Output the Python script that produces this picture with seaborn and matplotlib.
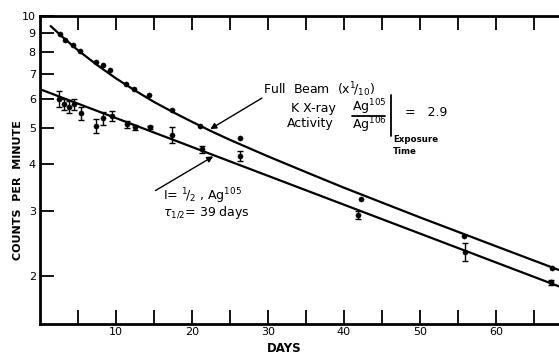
import matplotlib
matplotlib.use("Agg")
import matplotlib.pyplot as plt
import seaborn as sns
import pandas as pd

# ---- data ----
full_days = [2.67, 3.33, 4.3, 5.3, 7.37, 8.29, 9.25, 11.3, 12.4, 14.3, 17.4, 21.1, 26.3, 42.2, 55.8, 67.4]
full_vals = [8.93, 8.62, 8.34, 8.06, 7.53, 7.38, 7.16, 6.57, 6.36, 6.14, 5.59, 5.08, 4.70, 3.23, 2.56, 2.11]

half_days = [2.54, 3.2, 3.82, 4.43, 5.43, 7.41, 8.29, 9.43, 11.4, 12.46, 14.5, 17.4, 21.3, 26.3, 41.9, 55.9, 67.2]
half_vals = [5.99, 5.80, 5.70, 5.80, 5.49, 5.08, 5.31, 5.39, 5.12, 5.02, 5.02, 4.80, 4.39, 4.21, 2.93, 2.33, 1.93]
half_err = [0.30, 0.20, 0.20, 0.20, 0.22, 0.22, 0.20, 0.18, 0.12, 0.09, 0.05, 0.25, 0.10, 0.12, 0.07, 0.13, 0.03]

# fitted curve through full-beam points
curve_days = [1.4, 3, 5, 7.5, 10, 12.5, 15, 17.5, 20, 22.5, 25, 30, 35, 40, 50, 60, 68.3]
curve_vals = [9.40, 8.77, 8.09, 7.39, 6.80, 6.31, 5.88, 5.52, 5.20, 4.91, 4.65, 4.20, 3.81, 3.46, 2.88, 2.41, 2.08]

# straight Ag105 decay line (39 day half-life)
line_days = [0.0, 68.3]
line_vals = [6.36, 1.88]

y_ticks = [2, 3, 4, 5, 6, 7, 8, 9, 10]
x_ticks = [10, 20, 30, 40, 50, 60]
x_minor = [5, 15, 25, 35, 45, 55, 65]

W, H = 559, 354
sns.set_style("ticks")
plt.rcParams['font.family'] = ['DejaVu Sans']
plt.rcParams['text.color'] = 'black'

fig = plt.figure(figsize=(W / 100, H / 100), dpi=100)
ax = fig.add_axes([40 / W, 1 - 324 / H, 1 - 40 / W, (324 - 16) / H])

df_curve = pd.DataFrame({"day": curve_days, "val": curve_vals})
df_line = pd.DataFrame({"day": line_days, "val": line_vals})
df_full = pd.DataFrame({"day": full_days, "val": full_vals})
df_half = pd.DataFrame({"day": half_days, "val": half_vals})

sns.lineplot(data=df_curve, x="day", y="val", ax=ax, color="black", lw=1.6,
             estimator=None, sort=False)
sns.lineplot(data=df_line, x="day", y="val", ax=ax, color="black", lw=1.6,
             estimator=None, sort=False)
sns.scatterplot(data=df_full, x="day", y="val", ax=ax, color="black", s=14,
                edgecolor="black", zorder=5)
ax.errorbar(half_days, half_vals, yerr=half_err, fmt="none", ecolor="black",
            elinewidth=1.0, capsize=2.5, capthick=1.0, zorder=4)
sns.scatterplot(data=df_half, x="day", y="val", ax=ax, color="black", s=14,
                edgecolor="black", zorder=5)

ax.set_yscale("log")
ax.set_ylim(1.49, 10)
ax.set_xlim(0, 68.3)
ax.set_yticks(y_ticks)
ax.set_yticklabels([str(v) for v in y_ticks])
ax.yaxis.set_minor_locator(matplotlib.ticker.NullLocator())
ax.set_xticks(x_ticks)
ax.set_xticklabels([str(v) for v in x_ticks])
ax.set_xticks(x_minor, minor=True)

ax.tick_params(axis="both", which="both", direction="in", width=1.3, labelsize=8,
               colors="black")
ax.tick_params(axis="x", which="both", length=10, top=True, pad=2)
ax.tick_params(axis="y", which="major", length=10, pad=3)

for s in ["left", "bottom", "top"]:
    ax.spines[s].set_linewidth(2.0)
    ax.spines[s].set_color("black")
ax.spines["right"].set_visible(False)

ax.set_xlabel("")
ax.set_ylabel("")


def ft(x, y, s, **kw):
    kw.setdefault("fontsize", 9)
    kw.setdefault("va", "center")
    kw.setdefault("ha", "left")
    kw.setdefault("color", "black")
    fig.text(x / W, 1 - y / H, s, **kw)


# axis titles
ft(284, 348, "DAYS", ha="center", fontsize=8.5, fontweight="bold")
ft(18, 190, "COUNTS  PER  MINUTE", ha="center", rotation=90, fontsize=8,
   fontweight="bold")

# annotations (pixel positions in the figure)
ft(263, 90, r"Full  Beam  (x$^{1}\!/_{10}$)")
ft(291, 108, "K X-ray")
ft(287, 123, "Activity")
ft(352, 107, r"Ag$^{105}$")
ft(352, 125, r"Ag$^{106}$")
fig.add_artist(plt.Line2D([352 / W, 385 / W], [1 - 116 / H, 1 - 116 / H],
                          color="black", lw=1.3))
fig.add_artist(plt.Line2D([391 / W, 391 / W], [1 - 95 / H, 1 - 136 / H],
                          color="black", lw=1.3))
ft(405, 113, "=   2.9")
ft(393, 139, "Exposure", fontsize=6.2, fontweight="bold")
ft(393, 151, "Time", fontsize=6.2, fontweight="bold")

ft(163, 196, r"I= $^{1}\!/_{2}$ , Ag$^{105}$")
ft(163, 213, r"$\tau_{1/2}$= 39 days")

ax.annotate("", xy=(22.4, 4.97), xytext=(29.2, 6.02),
            arrowprops=dict(arrowstyle="-|>", color="black", lw=1.0,
                            mutation_scale=9, shrinkA=0, shrinkB=0))
ax.annotate("", xy=(22.8, 4.20), xytext=(15.2, 3.40),
            arrowprops=dict(arrowstyle="-|>", color="black", lw=1.0,
                            mutation_scale=9, shrinkA=0, shrinkB=0))

fig.savefig("out.png", dpi=100, facecolor="white")
